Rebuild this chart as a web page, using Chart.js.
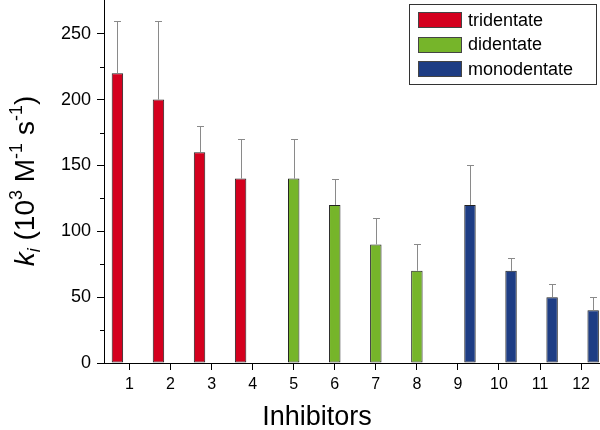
<!DOCTYPE html>
<html>
<head>
<meta charset="utf-8">
<script src="https://cdn.jsdelivr.net/npm/chart.js@4.4.1/dist/chart.umd.min.js"></script>
<style>
html,body{margin:0;padding:0;background:#fff;}
canvas{display:block;}
</style>
</head>
<body>
<canvas id="c" width="600" height="430"></canvas>
<script>
// ---- data ----
const categories = [1,2,3,4,5,6,7,8,9,10,11,12];
const seriesNames = ['tridentate','didentate','monodentate'];
const triX = [1,2,3,4];
const diX = [5,6,7,8];
const monoX = [9,10,11,12];
const triValues = [220,200,160,140];
const diValues = [140,120,90,70];
const monoValues = [120,70,50,40];
const triErr = [40,60,20,30];
const diErr = [30,20,20,20];
const monoErr = [30,10,10,10];
const yTickLabels = [0,50,100,150,200,250];
const yMinorTicks = [25,75,125,175,225];
const colors = ['#d4001e','#76b52a','#1e3d84'];

const FONT = '"Liberation Sans", Arial, sans-serif';

function pts(xs, ys){ return xs.map((x,i)=>({x:x, y:ys[i]})); }

const errors = [triErr, diErr, monoErr];

const extras = {
  id:'extras',
  afterDatasetsDraw(chart){
    const ctx = chart.ctx;
    const ys = chart.scales.y;
    ctx.save();
    ctx.strokeStyle = '#8a8a8a';
    ctx.lineWidth = 1;
    chart.data.datasets.forEach((ds, di)=>{
      const meta = chart.getDatasetMeta(di);
      meta.data.forEach((el, j)=>{
        const v = ds.data[j].y, e = errors[di][j];
        const x = Math.round(el.x)+0.5;
        const yt = Math.round(ys.getPixelForValue(v+e))+0.5;
        ctx.beginPath();
        ctx.moveTo(x, el.y);
        ctx.lineTo(x, yt);
        ctx.moveTo(x-3.5, yt);
        ctx.lineTo(x+3.5, yt);
        ctx.stroke();
      });
    });
    ctx.restore();
  },
  afterDraw(chart){
    const ctx = chart.ctx;
    const ys = chart.scales.y;
    const left = chart.chartArea.left;
    ctx.save();
    // minor ticks
    ctx.strokeStyle = '#000';
    ctx.lineWidth = 1;
    yMinorTicks.forEach(v=>{
      const y = Math.round(ys.getPixelForValue(v))+0.5;
      ctx.beginPath();
      ctx.moveTo(left-4, y);
      ctx.lineTo(left, y);
      ctx.stroke();
    });
    // x title
    ctx.fillStyle = '#000';
    ctx.font = '27px ' + FONT;
    ctx.textAlign = 'center';
    ctx.textBaseline = 'middle';
    ctx.fillText('Inhibitors', 317, 418);
    // y title
    ctx.translate(34, 181);
    ctx.rotate(-Math.PI/2);
    ctx.textAlign = 'left';
    ctx.textBaseline = 'alphabetic';
    const big = 28, small = 18;
    const parts = [
      {t:'k', f:'italic '+big+'px '+FONT, dy:0},
      {t:'i', f:'italic '+small+'px '+FONT, dy:6},
      {t:' (10', f:big+'px '+FONT, dy:0},
      {t:'3', f:small+'px '+FONT, dy:-12},
      {t:' M', f:big+'px '+FONT, dy:0},
      {t:'-1', f:small+'px '+FONT, dy:-12},
      {t:' s', f:big+'px '+FONT, dy:0},
      {t:'-1', f:small+'px '+FONT, dy:-12},
      {t:')', f:big+'px '+FONT, dy:0}
    ];
    let total = 0;
    parts.forEach(p=>{ ctx.font = p.f; p.w = ctx.measureText(p.t).width; total += p.w; });
    let x = -total/2;
    parts.forEach(p=>{ ctx.font = p.f; ctx.fillText(p.t, x, p.dy); x += p.w; });
    ctx.setTransform(1,0,0,1,0,0);
    // legend
    ctx.strokeStyle = '#333';
    ctx.lineWidth = 1;
    ctx.strokeRect(409.5, 4.5, 187, 80);
    ctx.font = '18px ' + FONT;
    ctx.textAlign = 'left';
    ctx.textBaseline = 'middle';
    chart.data.datasets.forEach((ds, i)=>{
      const cy = 20 + i*24.5;
      ctx.fillStyle = ds.backgroundColor;
      ctx.fillRect(418, Math.round(cy-8), 44, 16);
      ctx.strokeStyle = '#444';
      ctx.strokeRect(418.5, Math.round(cy-8)+0.5, 43, 15);
      ctx.fillStyle = '#000';
      ctx.fillText(ds.label, 468, cy+1);
    });
    ctx.restore();
  }
};

new Chart(document.getElementById('c'), {
  type:'bar',
  data:{
    datasets:[
      {label:seriesNames[0], data:pts(triX, triValues), backgroundColor:colors[0]},
      {label:seriesNames[1], data:pts(diX, diValues), backgroundColor:colors[1]},
      {label:seriesNames[2], data:pts(monoX, monoValues), backgroundColor:colors[2]}
    ]
  },
  options:{
    responsive:false,
    animation:false,
    layout:{padding:{left:0,right:0,top:0,bottom:0}},
    datasets:{bar:{categoryPercentage:0.88, barPercentage:0.95, borderWidth:1, borderColor:'#222', borderSkipped:false}},
    plugins:{legend:{display:false}, tooltip:{enabled:false}},
    scales:{
      x:{
        type:'linear', min:0.38, max:12.46, offset:false,
        afterBuildTicks(s){ s.ticks = categories.map(v=>({value:v})); },
        afterFit(s){ s.height = 67; s.paddingLeft = 0; s.paddingRight = 0; },
        ticks:{font:{family:FONT,size:16}, color:'#000', padding:5, autoSkip:false, maxRotation:0},
        grid:{display:true, offset:false, drawOnChartArea:false, tickLength:7, tickColor:'#000', tickWidth:1},
        border:{display:true, color:'#000', width:1}
      },
      y:{
        type:'linear', min:0, max:275.6,
        afterBuildTicks(s){ s.ticks = yTickLabels.map(v=>({value:v})); },
        afterFit(s){ s.width = 104; s.paddingTop = 0; s.paddingBottom = 0; },
        ticks:{font:{family:FONT,size:18}, color:'#000', padding:6},
        grid:{display:true, offset:false, drawOnChartArea:false, tickLength:7, tickColor:'#000', tickWidth:1},
        border:{display:true, color:'#000', width:1}
      }
    }
  },
  plugins:[extras]
});
</script>
</body>
</html>
